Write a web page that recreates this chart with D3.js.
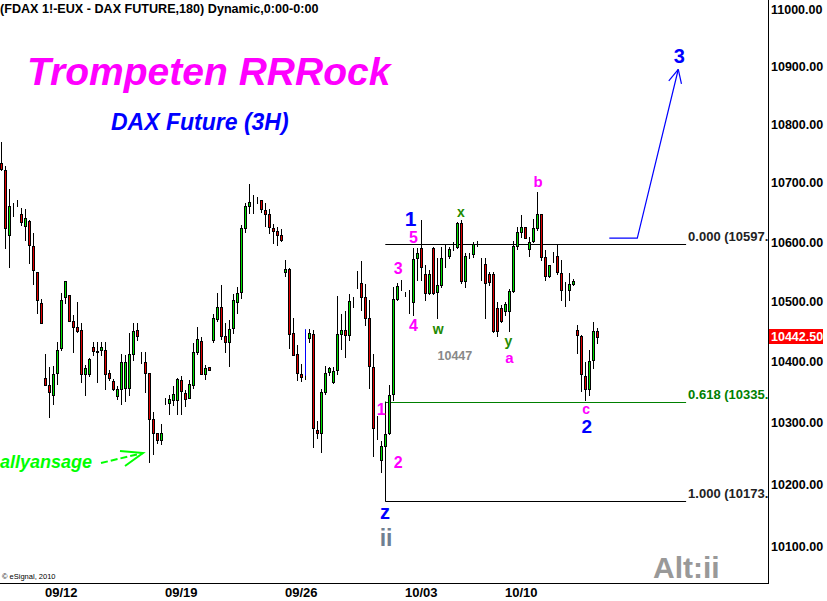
<!DOCTYPE html>
<html>
<head>
<meta charset="utf-8" />
<title>FDAX 180 - Trompeten RRRock</title>
<script src="https://cdnjs.cloudflare.com/ajax/libs/d3/7.8.5/d3.min.js"></script>
<style>
html, body { margin: 0; padding: 0; background: #fff; }
svg text { font-family: "Liberation Sans", Arial, sans-serif; }
.dateLbl { font-family: "Liberation Sans Narrow", "Arial Narrow", "Liberation Sans", sans-serif; }
</style>
</head>
<body>
<div id="chart"></div>
<script>
// 3h bars, FDAX
var openP = [10734.5,10723,10612,10665,10663,10648,10628,10636,10594,10550,
  10498,10375,10363,10346,10383,10424.5,10508,10512,10468,10459,
  10453,10380,10381,10425.5,10418,10420,10421,10382.5,10369,10344.5,
  10356.5,10357,10358.5,10414.5,10453,10402,10400,10382.5,10307.5,10284,
  10272,10334.5,10333.5,10337.5,10338,10371.5,10350,10341,10363,10416.5,
  10436,10381,10392,10437,10472,10491.5,10443,10434,10457,10500.5,
  10517,10625,10662.5,10669,10673,10671.5,10654.5,10648,10624,10619,
  10612,10551,10555.5,10448,10413.5,10381.5,10377.5,10441,10446.5,10288,
  10284,10350.5,10384,10368,10388,10447,10453,10446,10501.5,10531.5,
  10532,10508.5,10473,10393,10289.5,10240,10262.5,10284,10348.5,10506,
  10528,10513.5,10499.5,10500.5,10573.5,10590.5,10547,10514.5,10591.5,10517.5,
  10528.5,10576,10577.5,10591.5,10592,10632.5,10535.5,10579,10580.5,10599,
  10563.5,10563.5,10547,10547,10490,10490,10485.5,10485.5,10519,10594,
  10618,10625.5,10588.5,10602.5,10624,10648,10575,10544,10576,10577.5,
  10548,10520,10520,10530,10453,10443.5,10377,10355.5,10403.5,10451.5];
var highP = [10770.5,10730,10690,10666.5,10672,10658,10657,10638,10615.5,10550,
  10506,10414.5,10392,10393.5,10434,10514.5,10535,10512,10478,10500,
  10465.5,10395,10407,10434,10434,10434,10434,10387,10373,10360.5,
  10414.5,10412,10448,10464.5,10464.5,10417,10417,10382.5,10318,10284,
  10299,10340.5,10345.5,10360.5,10373.5,10377,10354,10370.5,10432,10458.5,
  10441.5,10395,10392,10481,10515,10528.5,10464.5,10470,10513,10525.5,
  10629.5,10666.5,10699.5,10680.5,10677,10671.5,10667,10657,10631,10625.5,
  10622,10570.5,10556.5,10473,10428.5,10397,10381.5,10456,10453,10304,
  10356.5,10394.5,10392,10392.5,10510,10481,10485,10513,10508.5,10551.5,
  10569,10530,10503.5,10413.5,10312.5,10270,10299,10362,10525.5,10531.5,
  10537,10517,10520,10590.5,10591,10638,10562,10553.5,10593,10573.5,
  10593,10596,10593,10601.5,10635,10638,10582,10582.5,10601.5,10603,
  10573.5,10573.5,10551,10551,10500.5,10495,10500.5,10522.5,10603,10625.5,
  10646.5,10625.5,10610,10639.5,10685,10648,10587.5,10561.5,10583.5,10596,
  10570.5,10534,10548.5,10539.5,10461.5,10445,10400.5,10420,10467,10457];
var lowP = [10723,10591,10559,10644,10662.5,10630,10604,10565,10531,10482,
  10465,10362,10310,10332,10365,10420,10499,10468,10417,10450,
  10367.5,10345.5,10377,10412,10367.5,10412,10356.5,10370.5,10354,10339,
  10332,10336,10345.5,10403.5,10436.5,10398.5,10351,10236.5,10250,10267,
  10266,10331,10315.5,10329,10315.5,10315.5,10328,10340.5,10357.5,10413.5,
  10380,10372.5,10387,10434,10469,10438,10417.5,10394,10448,10482,
  10507,10618,10650.5,10650.5,10666.5,10652,10628,10615.5,10600,10596.5,
  10603,10543.5,10424,10413,10370.5,10369,10372,10434,10261,10275.5,
  10252.5,10348.5,10378.5,10365.5,10381.5,10422,10409,10436.5,10492,10524,
  10486.5,10461.5,10357.5,10246,10273.5,10220,10242,10281.5,10338.5,10503.5,
  10520,10510,10481.5,10478.5,10537,10537,10503.5,10513,10513,10473,
  10525,10559,10573.5,10587.5,10591,10532.5,10525.5,10574,10576,10594.5,
  10537,10473,10528.5,10449.5,10444,10467,10478.5,10452,10517,10589,
  10609.5,10607,10577.5,10601,10621,10570.5,10537,10542,10567.5,10547,
  10503.5,10493.5,10503.5,10528.5,10415.5,10352,10338.5,10345.5,10390,10431.5];
var closeP = [10724,10625,10661,10665,10663,10635,10641,10595,10554,10504,
  10465.5,10363,10350.5,10381,10420,10503.5,10535,10469,10458,10452,
  10381,10390,10406,10419,10417,10425.5,10381,10375,10356.5,10355.5,
  10400.5,10400,10414.5,10451.5,10443,10402,10382.5,10307.5,10284.5,10272,
  10284,10334.5,10339,10348.5,10372,10352.5,10339.5,10364,10416.5,10438,
  10381,10391.5,10387.5,10473,10491.5,10444,10434,10456,10503,10516,
  10624,10662,10668,10669,10673,10656,10649,10626.5,10619.5,10612.5,
  10604,10555.5,10447,10413,10383,10376,10377.5,10448.5,10292,10284,
  10350.5,10382,10391.5,10385.5,10446.5,10453,10446,10501.5,10501.5,10531.5,
  10509,10474,10394,10292,10289.5,10262,10283,10345.5,10506,10527,
  10528,10513.5,10499.5,10571.5,10582,10559,10514.5,10547,10515.5,10528.5,
  10573.5,10576,10589,10591.5,10632.5,10535.5,10578,10579,10597,10599,
  10563.5,10532.5,10533.5,10452,10452,10469,10496.5,10518.5,10594,10617,
  10625.5,10608,10601.5,10624,10648,10576,10544,10561.5,10576,10550,
  10520,10520,10530,10535.5,10446,10380,10355.5,10402,10451.5,10442.5];

var priceTicks = [10100,10200,10300,10400,10500,10600,10700,10800,10900,11000];
var dateTickIdx = [15, 45, 75, 105, 130];
var dateTickLabels = ["09/12", "09/19", "09/26", "10/03", "10/10"];
var lastPrice = 10442.50;

// fibonacci retracement 10173.5 -> 10597.5
var fibLevels = [0, 0.618, 1];
var fibHigh = 10597.5, fibLow = 10173.5;
var fibColors = ["#000", "#008000", "#000"];

// elliott wave labels: [text, bar index, price, colour, size]
var waveLabels = [
  ["1", 102.3, 10640, "#0000ff", 21],
  ["5", 103.05, 10608.5, "#ff00ff", 16],
  ["3", 99.2, 10557, "#ff00ff", 16],
  ["4", 103.05, 10461.5, "#ff00ff", 16],
  ["1", 95, 10322.5, "#ff00ff", 16],
  ["2", 99.2, 10235, "#ff00ff", 16],
  ["w", 109.2, 10455, "#1f8a00", 14],
  ["x", 114.9, 10651.5, "#1f8a00", 14],
  ["y", 126.8, 10435, "#1f8a00", 14],
  ["a", 127.05, 10408.5, "#ff00ff", 15],
  ["b", 134.2, 10702.5, "#ff00ff", 15],
  ["c", 146.2, 10322.5, "#ff00ff", 14],
  ["2", 146.4, 10294, "#0000ff", 19],
  ["3", 169.5, 10919.5, "#0000ff", 20],
  ["z", 95.9, 10156, "#0000ff", 20],
  ["ii", 96.2, 10113.5, "#6f7f92", 23]
];
var noteLabel = ["10447", 113.4, 10410, "#888888", 12.5];

// blue projection towards wave 3: [bar index, price]
var wave3Path = [[152, 10607.5], [159, 10607.5], [169.25, 10896]];
var blueMark = [76, 10455, 10378];

var W = 827, H = 601;
var plotRight = 768, plotBottom = 583;

var svg = d3.select("#chart").append("svg")
  .attr("width", W).attr("height", H)
  .style("display", "block");

var x = d3.scaleLinear().domain([0, 149]).range([1.3, 597.3]);
var y = d3.scaleLog().domain([10100, 11000]).range([546.5, 9.5]);

svg.append("clipPath").attr("id", "plotClip")
  .append("rect").attr("x", 0).attr("y", 0).attr("width", plotRight).attr("height", plotBottom);

var plot = svg.append("g").attr("clip-path", "url(#plotClip)");

// headings
svg.append("text").attr("x", 0).attr("y", 13)
  .attr("font-size", 12.6).attr("font-weight", "bold").attr("fill", "#000")
  .text("(FDAX 1!-EUX - DAX FUTURE,180) Dynamic,0:00-0:00");

plot.append("text").attr("x", 27).attr("y", 85)
  .attr("font-size", 39).attr("font-weight", "bold").attr("font-style", "italic")
  .attr("fill", "#ff00ff")
  .text("Trompeten RRRock");

plot.append("text").attr("x", 111).attr("y", 130)
  .attr("font-size", 23).attr("font-weight", "bold").attr("font-style", "italic")
  .attr("fill", "#0000ff")
  .text("DAX Future (3H)");

// fib lines
var fibX0 = x(96), fibX1 = x(171.2);
fibLevels.forEach(function(lv, k) {
  var price = fibHigh - lv * (fibHigh - fibLow);
  var yy = Math.round(y(price)) + 0.5;
  plot.append("line")
    .attr("x1", fibX0).attr("x2", fibX1).attr("y1", yy).attr("y2", yy)
    .attr("stroke", fibColors[k]).attr("stroke-width", 1);
  plot.append("text")
    .attr("x", fibX1 + 2).attr("y", yy - 4)
    .attr("font-size", 13).attr("font-weight", "bold")
    .attr("fill", fibColors[k] === "#000" ? "#222" : fibColors[k])
    .text(lv.toFixed(3) + " (" + price.toFixed(1) + ")");
});
plot.append("line")
  .attr("x1", Math.round(fibX0) + 0.5).attr("x2", Math.round(fibX0) + 0.5)
  .attr("y1", y(fibHigh - 0.618 * (fibHigh - fibLow))).attr("y2", Math.round(y(fibLow)) + 0.5)
  .attr("stroke", "#000");

// candles
var bars = d3.range(openP.length).map(function(i) {
  return { i: i, o: openP[i], h: highP[i], l: lowP[i], c: closeP[i] };
});

var cg = plot.append("g").attr("shape-rendering", "crispEdges");
cg.selectAll("line.wick").data(bars).enter().append("line")
  .attr("class", "wick")
  .attr("x1", function(d) { return Math.round(x(d.i)) + 0.5; })
  .attr("x2", function(d) { return Math.round(x(d.i)) + 0.5; })
  .attr("y1", function(d) { return Math.round(y(d.h)); })
  .attr("y2", function(d) { return Math.round(y(d.l)) + 1; })
  .attr("stroke", "#000").attr("stroke-width", 1);

cg.selectAll("rect.body").data(bars).enter().append("rect")
  .attr("class", "body")
  .attr("x", function(d) { return Math.round(x(d.i)) - 0.5; })
  .attr("y", function(d) { return Math.round(y(Math.max(d.o, d.c))) + 0.5; })
  .attr("width", 2)
  .attr("height", function(d) {
    return Math.round(y(Math.min(d.o, d.c))) - Math.round(y(Math.max(d.o, d.c)));
  })
  .attr("fill", function(d) { return d.c > d.o ? "#00e000" : (d.c < d.o ? "#e00000" : "#000"); })
  .attr("stroke", "#000").attr("stroke-width", 1);

// blue mark and projection
plot.append("line")
  .attr("x1", Math.round(x(blueMark[0])) + 0.5).attr("x2", Math.round(x(blueMark[0])) + 0.5)
  .attr("y1", y(blueMark[1])).attr("y2", y(blueMark[2]))
  .attr("stroke", "#0000ff");

var pts = wave3Path.map(function(p) { return [x(p[0]), y(p[1])]; });
plot.append("path")
  .attr("d", d3.line()(pts))
  .attr("fill", "none").attr("stroke", "#0000ff").attr("stroke-width", 1.2);
var tip = pts[2], prev = pts[1];
var ang = Math.atan2(prev[1] - tip[1], prev[0] - tip[0]);
[-0.45, 0.45].forEach(function(da) {
  plot.append("line")
    .attr("x1", tip[0]).attr("y1", tip[1])
    .attr("x2", tip[0] + 15 * Math.cos(ang + da)).attr("y2", tip[1] + 15 * Math.sin(ang + da))
    .attr("stroke", "#0000ff").attr("stroke-width", 1.2);
});

// wave labels
plot.selectAll("text.wave").data(waveLabels).enter().append("text")
  .attr("class", "wave")
  .attr("x", function(d) { return x(d[1]); })
  .attr("y", function(d) { return y(d[2]); })
  .attr("text-anchor", "middle").attr("dominant-baseline", "central")
  .attr("font-weight", "bold")
  .attr("font-size", function(d) { return d[4]; })
  .attr("fill", function(d) { return d[3]; })
  .text(function(d) { return d[0]; });

plot.append("text")
  .attr("x", x(noteLabel[1])).attr("y", y(noteLabel[2]))
  .attr("text-anchor", "middle").attr("dominant-baseline", "central")
  .attr("font-weight", "bold").attr("font-size", noteLabel[4]).attr("fill", noteLabel[3])
  .text(noteLabel[0]);

// rallyansage + green arrow
plot.append("text").attr("x", 0).attr("y", 468)
  .attr("font-size", 18).attr("font-weight", "bold").attr("font-style", "italic")
  .attr("fill", "#00ff00")
  .text("allyansage");
var ga = [[101, 463], [143, 453]];
plot.append("path").attr("d", d3.line()(ga))
  .attr("stroke", "#00ff00").attr("stroke-width", 2).attr("stroke-dasharray", "7,3").attr("fill", "none");
plot.append("path").attr("d", d3.line()([[120, 451], [143, 453], [125, 466]]))
  .attr("stroke", "#00ff00").attr("stroke-width", 2).attr("fill", "none");

plot.append("text").attr("x", 653).attr("y", 578)
  .attr("font-size", 30).attr("font-weight", "bold").attr("fill", "#999999")
  .text("Alt:ii");

plot.append("text").attr("x", 2).attr("y", 579)
  .attr("font-size", 7.5).attr("fill", "#000")
  .text("\u00a9 eSignal, 2010");

// frame
svg.append("line").attr("x1", plotRight + 0.5).attr("x2", plotRight + 0.5)
  .attr("y1", 0).attr("y2", plotBottom + 1).attr("stroke", "#000");
svg.append("line").attr("x1", 0).attr("x2", plotRight + 1)
  .attr("y1", plotBottom + 0.5).attr("y2", plotBottom + 0.5).attr("stroke", "#000");

// price axis
svg.selectAll("text.ptick").data(priceTicks).enter().append("text")
  .attr("class", "ptick")
  .attr("x", plotRight + 3)
  .attr("y", function(d) { return y(d); })
  .attr("dominant-baseline", "central")
  .attr("font-size", 12.5).attr("font-weight", "bold").attr("fill", "#000")
  .text(function(d) { return d.toFixed(2); });

var ly = y(lastPrice);
svg.append("rect").attr("x", plotRight + 1).attr("y", Math.round(ly) - 8)
  .attr("width", 54).attr("height", 15).attr("fill", "#ff0000");
svg.append("text").attr("x", plotRight + 3).attr("y", ly)
  .attr("dominant-baseline", "central")
  .attr("font-size", 12.5).attr("font-weight", "bold").attr("fill", "#fff")
  .text(lastPrice.toFixed(2));

// date axis
svg.selectAll("text.dtick").data(dateTickIdx).enter().append("text")
  .attr("class", "dtick dateLbl")
  .attr("x", function(d) { return x(d); })
  .attr("y", 592)
  .attr("text-anchor", "middle").attr("dominant-baseline", "central")
  .attr("font-size", 13).attr("font-weight", "bold").attr("fill", "#000")
  .text(function(d, k) { return dateTickLabels[k]; });
</script>
</body>
</html>
